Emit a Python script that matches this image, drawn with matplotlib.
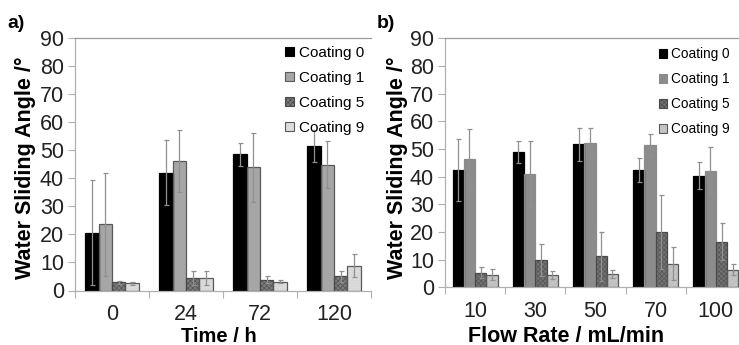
import matplotlib
matplotlib.use("Agg")
import matplotlib.pyplot as plt
from matplotlib.patches import Patch
import numpy as np

plt.rcParams['font.family'] = ['Liberation Sans', 'DejaVu Sans']
plt.rcParams['hatch.linewidth'] = 0.5

series = ["Coating 0", "Coating 1", "Coating 5", "Coating 9"]

# Panel a: time
time_labels = ["0", "24", "72", "120"]
a_vals = {
    "Coating 0": [20.6, 42.1, 48.6, 51.5],
    "Coating 1": [23.6, 46.1, 43.9, 44.9],
    "Coating 5": [2.9, 4.5, 3.9, 5.0],
    "Coating 9": [2.5, 4.5, 3.2, 8.9],
}
a_errs = {
    "Coating 0": [18.7, 11.5, 4.1, 5.7],
    "Coating 1": [18.5, 11.0, 12.2, 8.4],
    "Coating 5": [0.5, 2.5, 1.1, 2.1],
    "Coating 9": [0.6, 2.5, 0.7, 4.0],
}

# Panel b: flow rate
flow_labels = ["10", "30", "50", "70", "100"]
b_vals = {
    "Coating 0": [42.4, 48.9, 51.7, 42.4, 40.4],
    "Coating 1": [46.3, 41.0, 52.0, 51.4, 42.2],
    "Coating 5": [5.3, 10.0, 11.2, 20.1, 16.4],
    "Coating 9": [4.5, 4.5, 4.8, 8.6, 6.4],
}
b_errs = {
    "Coating 0": [11.3, 4.0, 6.0, 4.5, 4.9],
    "Coating 1": [11.0, 11.9, 5.7, 4.1, 8.5],
    "Coating 5": [2.0, 5.8, 8.8, 13.4, 6.7],
    "Coating 9": [2.0, 1.5, 1.5, 6.1, 1.9],
}

W, H = 739, 345
fig = plt.figure(figsize=(W / 100, H / 100), dpi=100)

style_a = {
    "Coating 0": dict(fc="#000000", hatch=None, hc="#000000", ec="#000000"),
    "Coating 1": dict(fc="#a6a6a6", hatch=None, hc="#a6a6a6", ec="#595959"),
    "Coating 5": dict(fc="#7c7c7c", hatch="xxxxxxx", hc="#555555", ec="#4a4a4a"),
    "Coating 9": dict(fc="#dcdcdc", hatch="......", hc="#d0d0d0", ec="#5a5a5a"),
}
style_b = {
    "Coating 0": dict(fc="#000000", hatch=None, hc="#000000", ec="#000000"),
    "Coating 1": dict(fc="#8c8c8c", hatch=None, hc="#8c8c8c", ec="#8c8c8c"),
    "Coating 5": dict(fc="#727272", hatch="xxxxxxx", hc="#555555", ec="#4a4a4a"),
    "Coating 9": dict(fc="#c4c4c4", hatch="//////", hc="#bababa", ec="#5a5a5a"),
}

TICKC = "#222222"
AXC = "#b0b0b0"
TICKFS = 15.5


def panel(rect, labels, vals, errs, width, styles, legend_xy, legend_fs, lsp):
    ax = fig.add_axes(rect)
    n = len(labels)
    x = np.arange(n)
    for i, s in enumerate(series):
        st = styles[s]
        pos = x + (i - 1.5) * width
        ax.bar(pos, vals[s], width=width, color=st["fc"], edgecolor=st["hc"],
               hatch=st["hatch"], linewidth=0, zorder=2)
        ax.bar(pos, vals[s], width=width, fill=False, edgecolor=st["ec"],
               linewidth=0.9, zorder=3)
        ax.errorbar(pos, vals[s], yerr=errs[s], fmt="none", ecolor="#909090",
                    elinewidth=0.9, capsize=1.8, capthick=0.9, zorder=4)
    ax.set_xlim(-0.5, n - 0.5)
    ax.set_ylim(0, 90)
    ax.set_yticks(np.arange(0, 91, 10))
    ax.set_xticks(x)
    ax.set_xticklabels(labels)
    ax.set_xticks(np.arange(-0.5, n, 1.0), minor=True)
    ax.tick_params(axis="x", which="major", length=0, labelsize=TICKFS,
                   labelcolor=TICKC, pad=10)
    ax.tick_params(axis="x", which="minor", length=5, color=AXC, width=0.8,
                   direction="out")
    ax.tick_params(axis="y", length=5, color=AXC, width=0.8, labelsize=TICKFS,
                   labelcolor=TICKC, pad=3)
    ax.spines["right"].set_visible(False)
    ax.spines["top"].set_color("#9a9a9a")
    ax.spines["left"].set_color(AXC)
    ax.spines["bottom"].set_color(AXC)
    for sp in ax.spines.values():
        sp.set_linewidth(0.9)
    handles = []
    for s in series:
        st = styles[s]
        lh = st["hatch"] if s == "Coating 5" else None
        handles.append(Patch(facecolor=st["fc"], edgecolor=st["ec"],
                             hatch=lh, linewidth=0.8, label=s))
    fig.legend(handles=handles, loc="upper left",
               bbox_to_anchor=(legend_xy[0] / W, 1 - legend_xy[1] / H),
               frameon=False, fontsize=legend_fs, handlelength=0.6,
               handleheight=0.6, handletextpad=0.3, labelspacing=lsp,
               borderpad=0, borderaxespad=0)
    return ax


def rect(l, t, r, b):
    return [l / W, 1 - b / H, (r - l) / W, (b - t) / H]


ax1 = panel(rect(75, 38.3, 371, 290.5), time_labels, a_vals, a_errs, 0.182,
            style_a, (285, 46), 11, 0.72)
ax2 = panel(rect(445, 38.3, 746, 287.3), flow_labels, b_vals, b_errs, 0.187,
            style_b, (659, 47), 9.8, 0.82)

fig.text(219 / W, 1 - 336 / H, "Time / h", ha="center", va="center",
         fontsize=14.5, fontweight="bold")
fig.text(566 / W, 1 - 336 / H, "Flow Rate / mL/min", ha="center",
         va="center", fontsize=15.5, fontweight="bold")
fig.text(25 / W, 1 - 168 / H, "Water Sliding Angle /°", ha="center",
         va="center", rotation=90, fontsize=15.5, fontweight="bold")
fig.text(397 / W, 1 - 168 / H, "Water Sliding Angle /°", ha="center",
         va="center", rotation=90, fontsize=15.5, fontweight="bold")
fig.text(7 / W, 1 - 23 / H, "a)", ha="left", va="center", fontsize=14,
         fontweight="bold")
fig.text(377 / W, 1 - 23 / H, "b)", ha="left", va="center", fontsize=14,
         fontweight="bold")

fig.savefig("out.png", dpi=100)
